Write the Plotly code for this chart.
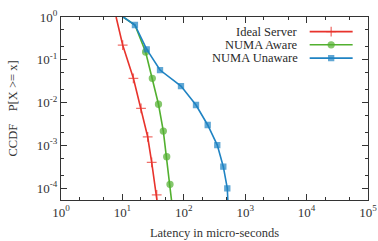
import plotly.graph_objects as go

# ---- data ----
ideal_x = [7.9, 10.1, 15.1, 20.1, 25.8, 30.0, 36.2, 38.5]
ideal_y = [1.0, 0.221, 0.0368, 0.0073, 0.00158, 0.0004, 0.000069, 0.00003]
ideal_mark = [0, 1, 1, 1, 1, 1, 1, 0]

aware_x = [10.3, 16.0, 23.9, 30.7, 38.7, 46.4, 52.7, 59.6, 66.0]
aware_y = [1.0, 0.65, 0.152, 0.0368, 0.0091, 0.00215, 0.00054, 0.000122, 0.00003]
aware_mark = [0, 0, 1, 1, 1, 1, 1, 1, 0]

unaware_x = [10.3, 16.0, 24.9, 41.0, 90.0, 158.0, 245.0, 351.0, 440.0, 511.0, 530.0]
unaware_y = [1.0, 0.65, 0.175, 0.0575, 0.0243, 0.00874, 0.00298, 0.00101, 0.000315, 0.000098, 0.00003]
unaware_mark = [0, 1, 1, 1, 1, 1, 1, 1, 1, 1, 0]

names = ["Ideal Server", "NUMA Aware", "NUMA Unaware"]
colors = ["#e8332c", "#52b02f", "#1f83c3"]
symbols = ["cross-thin-open", "circle", "square"]
sizes = [7, 6, 5]

x_tickvals = [1, 10, 100, 1000, 10000, 100000]
x_ticktext = ["10<sup>0</sup>", "10<sup>1</sup>", "10<sup>2</sup>", "10<sup>3</sup>", "10<sup>4</sup>", "10<sup>5</sup>"]
y_tickvals = [1, 0.1, 0.01, 0.001, 0.0001]
y_ticktext = ["10<sup>0</sup>", "10<sup>-1</sup>", "10<sup>-2</sup>", "10<sup>-3</sup>", "10<sup>-4</sup>"]

FONT = "Liberation Serif"

fig = go.Figure()

series = [(ideal_x, ideal_y, ideal_mark), (aware_x, aware_y, aware_mark), (unaware_x, unaware_y, unaware_mark)]
for i in range(3):
    xs, ys, mk = series[i]
    fig.add_trace(go.Scatter(
        x=xs, y=ys, mode="lines+markers", name=names[i], showlegend=False,
        line=dict(color=colors[i], width=1.6),
        marker=dict(symbol=symbols[i], color=colors[i],
                    size=[sizes[i] * m for m in mk],
                    line=dict(color=colors[i], width=1.3)),
    ))

# custom legend (text left of sample, like gnuplot)
leg_rows = [0.92, 0.848, 0.775]
for i in range(3):
    fig.add_trace(go.Scatter(
        x=[0.81, 0.88, 0.95], y=[leg_rows[i]] * 3, xaxis="x2", yaxis="y2",
        mode="lines+markers", showlegend=False, hoverinfo="skip",
        line=dict(color=colors[i], width=1.6),
        marker=dict(symbol=symbols[i], color=colors[i], size=[0, sizes[i], 0],
                    line=dict(color=colors[i], width=1.3)),
    ))
    fig.add_annotation(x=0.78, y=leg_rows[i], xref="x2", yref="y2", text=names[i],
                       showarrow=False, xanchor="right", yanchor="middle",
                       font=dict(family=FONT, size=12.5, color="#2a2a2a"))

axis_common = dict(
    showgrid=False, zeroline=False, showline=True, linecolor="#333333", linewidth=1.2,
    mirror="ticks", ticks="inside", ticklen=6, tickcolor="#333333", tickwidth=1,
    tickfont=dict(family=FONT, size=13, color="#333333"), automargin=False,
)

fig.update_layout(
    width=378, height=241,
    margin=dict(l=61, r=10, t=17, b=41),
    paper_bgcolor="white", plot_bgcolor="white",
    xaxis=dict(type="log", range=[0, 5], tickvals=x_tickvals, ticktext=x_ticktext,
               title=dict(text="Latency in micro-seconds", font=dict(family=FONT, size=12.5, color="#333333"), standoff=9),
               minor=dict(ticks="inside", ticklen=3, dtick="D2", tickcolor="#333333"),
               **axis_common),
    yaxis=dict(type="log", range=[-4.28, 0], tickvals=y_tickvals, ticktext=y_ticktext,
               title=dict(text="CCDF    P[X >= x]", font=dict(family=FONT, size=12.5, color="#333333"), standoff=16),
               minor=dict(ticks="inside", ticklen=3, dtick="D2", tickcolor="#333333"),
               **axis_common),
    xaxis2=dict(overlaying="x", range=[0, 1], visible=False, anchor="y2"),
    yaxis2=dict(overlaying="y", range=[0, 1], visible=False, anchor="x2"),
    showlegend=False,
)

fig.write_html("out.html", config={"displayModeBar": False},
               post_script="document.body.style.margin='0';document.body.style.overflow='hidden';")
